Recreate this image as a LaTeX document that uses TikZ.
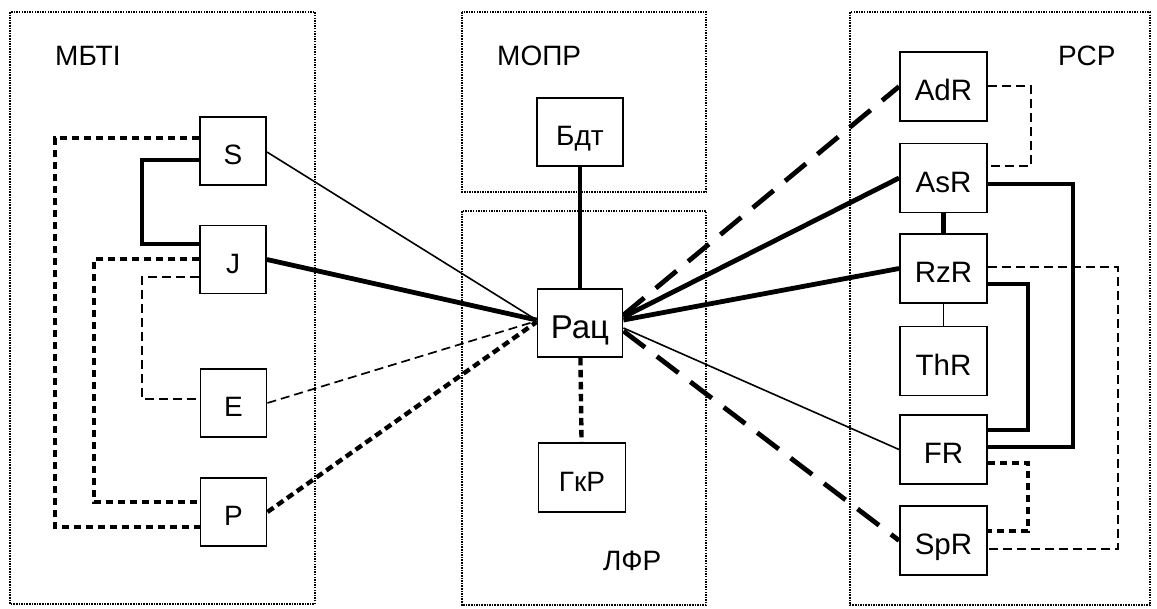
\documentclass[tikz,border=0pt]{standalone}
\usepackage{fontspec}
\setmainfont{Liberation Sans}
\begin{document}
\begin{tikzpicture}[x=1pt,y=-1pt,
  frame/.style={line width=1.9pt, dash pattern=on 1.5pt off 1.1pt},
  box/.style={draw, line width=1.9pt, inner sep=0pt, minimum width=66pt, minimum height=68pt,
    font=\fontsize{28}{30}\selectfont, text height=27pt, text depth=0pt},
  rbox/.style={box, minimum width=87pt, minimum height=69pt, font=\fontsize{29.5}{31}\selectfont, text height=28pt},
  lbl/.style={font=\fontsize{28}{30}\selectfont, inner sep=0pt, anchor=base west},
  thinsolid/.style={line width=1.6pt},
  thicksolid/.style={line width=4.8pt},
  thindash/.style={line width=1.7pt, dash pattern=on 9pt off 5pt},
  thickdot/.style={line width=4.4pt, dash pattern=on 7.5pt off 4.5pt},
  longdash/.style={line width=4.8pt, dash pattern=on 27pt off 15pt}
]
\fill[white] (0,0) rectangle (1157,608);
\useasboundingbox (0,0) rectangle (1157,608);

% frames
\draw[frame] (10,12) rectangle (315,604);
\draw[frame] (462,12) rectangle (706,192);
\draw[frame] (462,211) rectangle (706,605);
\draw[frame] (850,12) rectangle (1150,605);

% labels
\node[lbl] (mbti) at (55,65) {МБТІ};
\node[lbl] (mopr) at (497,65) {МОПР};
\node[lbl] (rsr) at (1058,65) {РСР};
\node[lbl] (lfr) at (603,570) {ЛФР};

% boxes
\node[box] (S) at (233,151) {S};
\node[box] (J) at (233,259.5) {J};
\node[box] (E) at (233.5,403) {E};
\node[box] (P) at (233.5,512) {P};
\node[box, minimum width=86pt] (bdt) at (580,132) {Бдт};
\node[box, minimum width=85pt, font=\fontsize{33}{35}\selectfont, text height=31pt] (rac) at (580,323) {Рац};
\node[box, minimum width=87pt, minimum height=69pt] (gkr) at (582,477.5) {ГкР};
\node[rbox] (AdR) at (943.5,86.5) {AdR};
\node[rbox] (AsR) at (943.5,178) {AsR};
\node[rbox] (RzR) at (943.5,268.5) {RzR};
\node[rbox] (ThR) at (943.5,361) {ThR};
\node[rbox] (FR) at (943.5,449.5) {FR};
\node[rbox] (SpR) at (943.5,540.5) {SpR};

% left panel connectors
\draw[thickdot] (S.west |- 0,138) -- (55,138) -- (55,527) -- (P.west |- 0,527);
\draw[thicksolid] (S.west |- 0,160) -- (142,160) -- (142,244) -- (J.west |- 0,244);
\draw[thickdot] (J.west |- 0,259) -- (94,259) -- (94,502) -- (P.west |- 0,502);
\draw[thindash] (J.west |- 0,277) -- (142,277) -- (142,399) -- (E.west |- 0,399);

% to Rac from the left
\draw[thinsolid] (S.east |- 0,152) -- ([yshift=3pt]rac.west);
\draw[thicksolid] (J.east) -- ([yshift=3pt]rac.west);
\draw[thindash] (E.east) -- ([yshift=2pt]rac.west);
\draw[thickdot] (P.east) -- ([yshift=1pt]rac.west);

% centre vertical
\draw[thicksolid] (bdt) -- (rac);
\draw[thickdot] (rac) -- (gkr);

% to the right
\draw[longdash] ([yshift=8pt]rac.east) -- (AdR.west);
\draw[thicksolid] ([yshift=6pt]rac.east) -- (AsR.west);
\draw[thicksolid] ([yshift=3pt]rac.east) -- (RzR.west);
\draw[thinsolid] ([yshift=-5pt]rac.east) -- (FR.west);
\draw[longdash] ([yshift=-8pt]rac.east) -- (SpR.west);

% right panel connectors
\draw[thindash] (AdR.east |- 0,86) -- (1031,86) -- (1031,166) -- (AsR.east |- 0,166);
\draw[thicksolid] (AsR) -- (RzR);
\draw[thinsolid] (RzR) -- (ThR);
\draw[thicksolid] (AsR.east |- 0,184) -- (1073,184) -- (1073,447) -- (FR.east |- 0,447);
\draw[thicksolid] (RzR.east |- 0,284) -- (1028,284) -- (1028,430) -- (FR.east |- 0,430);
\draw[thindash] (RzR.east |- 0,267) -- (1118,267) -- (1118,549) -- (SpR.east |- 0,549);
\draw[thickdot] (FR.east |- 0,463) -- (1028,463) -- (1028,531) -- (SpR.east |- 0,531);
\end{tikzpicture}
\end{document}
